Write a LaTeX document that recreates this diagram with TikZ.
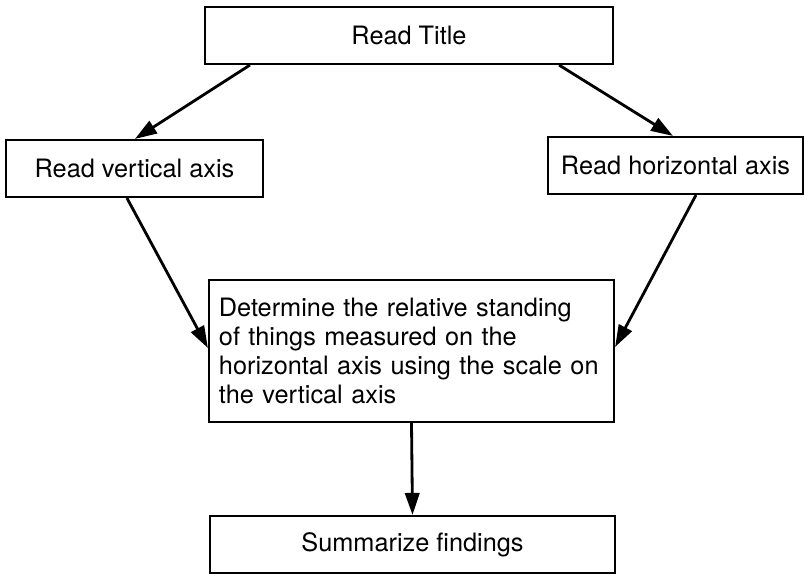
\documentclass[tikz,border=0pt]{standalone}
\usepackage{fontspec}
\setmainfont{TeX Gyre Heros}
\usepackage{tikz}
\usetikzlibrary{arrows.meta,positioning}
\tikzset{
  stepbox/.style={draw=black, line width=1.5pt, align=center, fill=white, inner sep=0pt, minimum height=1.425cm},
  textbox/.style={draw=black, line width=1.5pt, align=left, fill=white, inner xsep=0.25cm, inner ysep=0pt, text width=9.625cm, minimum height=3.55cm},
  flowarrow/.style={-{Triangle[length=0.55cm, width=0.36cm]}, line width=2pt, draw=black}
}

\begin{document}
\begin{tikzpicture}[x=0.025cm, y=-0.025cm, font=\fontsize{18}{20.6}\selectfont]
  \useasboundingbox (0,0) rectangle (804,574);

  \node[stepbox, minimum width=10.2cm] (title) at (409,35.5) {Read Title};
  \node[stepbox, minimum width=6.425cm] (vaxis) at (134.5,168.5) {Read vertical axis};
  \node[stepbox, minimum width=6.375cm] (haxis) at (675.5,165.5) {Read horizontal axis};
  \node[textbox] (standing) at (411.5,351) {Determine the relative standing\\of things measured on the\\horizontal axis using the scale on\\the vertical axis};
  \node[stepbox, minimum width=10.125cm] (summary) at (412.5,544.5) {Summarize findings};

  \draw[flowarrow] ([xshift=1.15cm]title.south west) -- ([xshift=3.25cm]vaxis.north west);
  \draw[flowarrow] ([xshift=-1.375cm]title.south east) -- ([xshift=3.15cm]haxis.north west);
  \draw[flowarrow] ([xshift=3.05cm]vaxis.south west) -- ([yshift=0.075cm]standing.west);
  \draw[flowarrow] ([xshift=3.725cm]haxis.south west) -- ([yshift=0.1cm]standing.east);
  \draw[flowarrow] (standing.south) -- (summary.north);
\end{tikzpicture}
\end{document}
